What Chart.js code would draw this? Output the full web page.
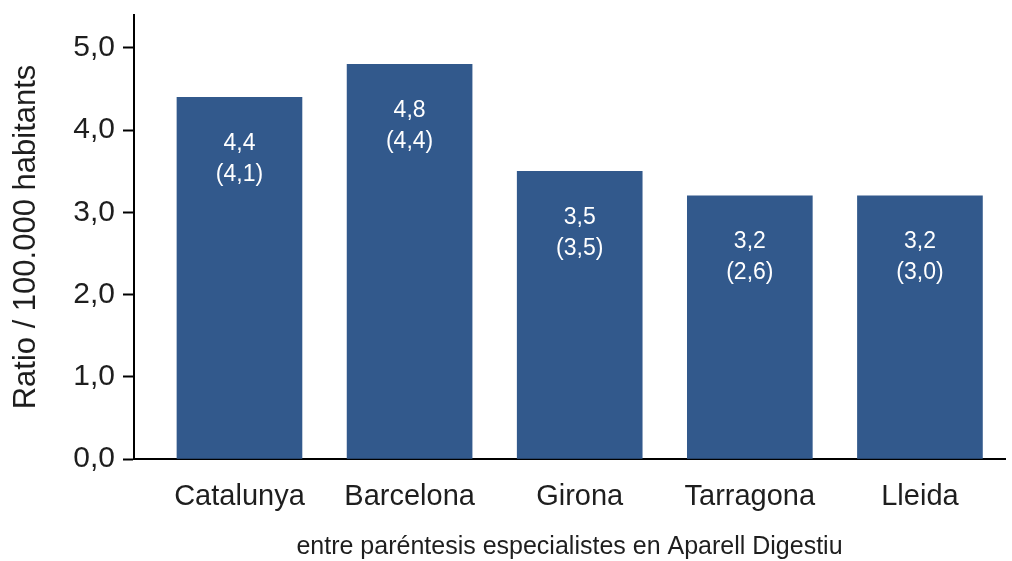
<!DOCTYPE html>
<html>
<head>
<meta charset="utf-8">
<script src="https://cdn.jsdelivr.net/npm/chart.js@4/dist/chart.umd.min.js"></script>
<style>
  html, body { margin: 0; padding: 0; background: #ffffff; }
  #wrap { width: 1012px; height: 561px; }
</style>
</head>
<body>
<div id="wrap"><canvas id="c" width="1012" height="561"></canvas></div>
<script>
// Ratio per 100.000 habitants by territory
const categories = ['Catalunya', 'Barcelona', 'Girona', 'Tarragona', 'Lleida'];
const ratioValues = [4.4, 4.8, 3.5, 3.2, 3.2];
// shown in brackets: specialists in Aparell Digestiu
const specialistValues = [4.1, 4.4, 3.5, 2.6, 3.0];
const yTicks = [0, 1, 2, 3, 4, 5];

const FONT = "'Liberation Sans', Arial, Helvetica, sans-serif";
const BAR_COLOR = '#32598C';
const TEXT_COLOR = '#1e1e1e';

const fmt = v => v.toFixed(1).replace('.', ',');

// two-line white label inside each bar: value and bracketed specialist value
const barLabels = {
  id: 'barLabels',
  afterDatasetsDraw(chart) {
    const ctx = chart.ctx;
    const meta = chart.getDatasetMeta(0);
    ctx.save();
    ctx.fillStyle = '#ffffff';
    ctx.font = '23px ' + FONT;
    ctx.textAlign = 'center';
    ctx.textBaseline = 'middle';
    meta.data.forEach((bar, i) => {
      ctx.fillText(fmt(ratioValues[i]), bar.x, bar.y + 46);
      ctx.fillText('(' + fmt(specialistValues[i]) + ')', bar.x, bar.y + 77);
    });
    ctx.restore();
  }
};

new Chart(document.getElementById('c'), {
  type: 'bar',
  data: {
    datasets: [{
      data: categories.map((c, i) => ({ x: i, y: ratioValues[i] })),
      backgroundColor: BAR_COLOR,
      borderWidth: 0,
      barThickness: 125
    }]
  },
  options: {
    responsive: false,
    animation: false,
    layout: { padding: { top: 15, right: 7, left: 0, bottom: 0 } },
    plugins: { legend: { display: false }, tooltip: { enabled: false } },
    scales: {
      x: {
        type: 'linear',
        offset: false,
        min: -0.62,
        max: 4.5,
        afterBuildTicks(scale) { scale.ticks = categories.map((c, i) => ({ value: i })); },
        afterFit(scale) { scale.height = 102; },
        grid: { display: false, offset: false },
        border: { display: true, color: '#000000', width: 2 },
        ticks: {
          color: TEXT_COLOR,
          font: { family: FONT, size: 29 },
          padding: 13,
          autoSkip: false,
          maxRotation: 0,
          callback: v => categories[v]
        },
        title: {
          display: true,
          text: 'entre paréntesis especialistes en Aparell Digestiu',
          color: TEXT_COLOR,
          font: { family: FONT, size: 25, lineHeight: 1 },
          padding: { top: 0, bottom: 1 }
        }
      },
      y: {
        min: 0,
        max: 5.4,
        afterBuildTicks(scale) { scale.ticks = yTicks.map(v => ({ value: v })); },
        afterFit(scale) {
          scale.width = 134;
          scale.paddingTop = 0;
          scale.paddingBottom = 0;
        },
        grid: {
          drawOnChartArea: false,
          drawTicks: true,
          tickLength: 11,
          tickColor: '#000000',
          tickWidth: 2,
          color: '#000000'
        },
        border: { display: true, color: '#000000', width: 2 },
        ticks: {
          color: TEXT_COLOR,
          font: { family: FONT, size: 30 },
          padding: 8,
          callback: v => fmt(v)
        },
        title: {
          display: true,
          text: 'Ratio / 100.000 habitants',
          color: TEXT_COLOR,
          font: { family: FONT, size: 31, lineHeight: 1.2 },
          padding: { top: 8, bottom: 0 }
        }
      }
    }
  },
  plugins: [barLabels]
});
</script>
</body>
</html>
